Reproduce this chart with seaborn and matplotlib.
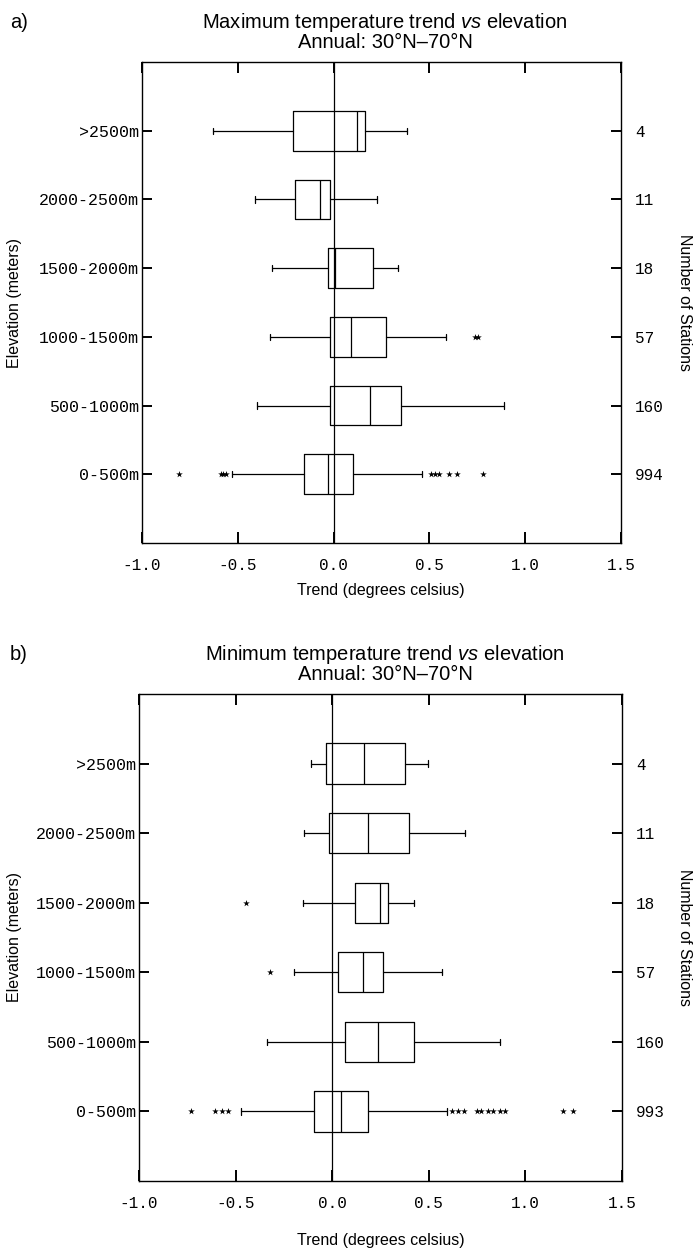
from matplotlib import pyplot as plt
import seaborn as sns
import pandas as pd

# kategorie nadmorske vysky (shora dolu)
elev = [">2500m", "2000-2500m", "1500-2000m", "1000-1500m", "500-1000m", "0-500m"]

# a) maximalni teplota
max_whislo = [-0.63, -0.41, -0.32, -0.33, -0.40, -0.53]
max_q1 = [-0.21, -0.20, -0.03, -0.02, -0.02, -0.155]
max_med = [0.12, -0.07, 0.005, 0.09, 0.19, -0.03]
max_q3 = [0.165, -0.02, 0.205, 0.275, 0.35, 0.10]
max_whishi = [0.385, 0.225, 0.335, 0.585, 0.89, 0.46]
max_fliers = [[], [], [], [0.74, 0.755],
              [], [-0.805, -0.59, -0.575, -0.56, 0.51, 0.53, 0.55, 0.60, 0.645, 0.78]]
max_counts = [4, 11, 18, 57, 160, 994]

# b) minimalni teplota
min_whislo = [-0.11, -0.145, -0.15, -0.20, -0.34, -0.473]
min_q1 = [-0.034, -0.018, 0.12, 0.03, 0.064, -0.095]
min_med = [0.165, 0.183, 0.245, 0.16, 0.236, 0.045]
min_q3 = [0.378, 0.40, 0.287, 0.264, 0.424, 0.183]
min_whishi = [0.498, 0.688, 0.424, 0.569, 0.867, 0.593]
min_fliers = [[], [], [-0.447], [-0.321],
              [], [-0.732, -0.608, -0.572, -0.54, 0.619, 0.65, 0.684, 0.748, 0.769,
                   0.808, 0.834, 0.869, 0.895, 1.195, 1.247]]
min_counts = [4, 11, 18, 57, 160, 993]

xticks = [-1.0, -0.5, 0.0, 0.5, 1.0, 1.5]

sns.set_theme(style="ticks")
plt.rcParams['font.family'] = ['Liberation Sans', 'DejaVu Sans']
plt.rcParams['mathtext.fontset'] = 'custom'
plt.rcParams['mathtext.rm'] = 'Liberation Sans'
plt.rcParams['mathtext.it'] = 'Liberation Sans:italic'
plt.rcParams['axes.unicode_minus'] = False
plt.rcParams['text.color'] = 'black'
plt.rcParams['axes.labelcolor'] = 'black'
mono = 'Liberation Mono'


def draw_panel(ax, whislo, q1, med, q3, whishi, fliers, counts):
    # odlehle hodnoty pres seaborn (kategoricka osa y)
    rows = [(e, v) for e, fl in zip(elev, fliers) for v in fl]
    df = pd.DataFrame(rows, columns=["elev", "trend"])
    sns.stripplot(data=df, x="trend", y="elev", order=elev, orient="h", jitter=False,
                  marker="*", color="black", size=5, linewidth=0, ax=ax)

    # krabice z predpocitanych statistik
    stats = [dict(whislo=a, q1=b, med=c, q3=d, whishi=e, fliers=[])
             for a, b, c, d, e in zip(whislo, q1, med, q3, whishi)]
    lp = dict(color="black", linewidth=0.9)
    ax.bxp(stats, positions=range(len(elev)), widths=0.58, orientation="horizontal",
           showfliers=False, manage_ticks=False, capwidths=0.09,
           boxprops=lp, whiskerprops=lp, capprops=lp, medianprops=lp)
    ax.axvline(0, color="black", linewidth=0.9, zorder=1)

    ax.set_xlim(-1.0, 1.5)
    ax.set_ylim(6, -1)
    ax.set_xticks(xticks)
    ax.set_xticklabels(["%.1f" % t for t in xticks], fontfamily=mono)
    ax.set_yticks(range(len(elev)))
    ax.set_yticklabels(elev, fontfamily=mono)
    ax.tick_params(axis="x", direction="in", top=True, length=8, width=1.4, pad=11,
                   labelsize=11.5, colors="black")
    ax.tick_params(axis="y", direction="in", length=7, width=1.4, pad=2,
                   labelsize=12, colors="black")
    ax.set_xlabel("")
    ax.set_ylabel("")
    for s in ax.spines.values():
        s.set_visible(True)
        s.set_color("black")
        s.set_linewidth(1.0)

    # pocet stanic napravo
    axr = ax.twinx()
    axr.set_ylim(6, -1)
    axr.set_yticks(range(len(elev)))
    axr.set_yticklabels([str(c) for c in counts], fontfamily=mono)
    axr.tick_params(axis="y", direction="in", length=7, width=1.4, pad=10,
                    labelsize=11.5, colors="black")
    for s in axr.spines.values():
        s.set_visible(False)


fig = plt.figure(figsize=(6.93, 12.5), dpi=100)
W, H = 693.0, 1250.0
ax1 = fig.add_axes([142 / W, 1 - 543 / H, 479 / W, 481 / H])
ax2 = fig.add_axes([139 / W, 1 - 1181 / H, 483 / W, 487 / H])

draw_panel(ax1, max_whislo, max_q1, max_med, max_q3, max_whishi, max_fliers, max_counts)
draw_panel(ax2, min_whislo, min_q1, min_med, min_q3, min_whishi, min_fliers, min_counts)

# titulky a popisky
for letter, name, y1, y2, top, bot, xl in [
        ("a)", "Maximum", 23, 43, 62, 543, 590),
        ("b)", "Minimum", 655, 675, 694, 1181, 1240)]:
    fig.text(10 / W, 1 - y1 / H, letter, fontsize=14.5, va="center", ha="left")
    fig.text(385 / W, 1 - y1 / H, name + r" temperature trend $\it{vs}$ elevation",
             fontsize=14.5, va="center", ha="center")
    fig.text(385 / W, 1 - y2 / H, "Annual: 30°N–70°N", fontsize=14.5,
             va="center", ha="center")
    fig.text(381 / W, 1 - xl / H, "Trend (degrees celsius)", fontsize=11.5,
             va="center", ha="center")
    mid = 1 - (top + bot) / 2 / H
    fig.text(14 / W, mid, "Elevation (meters)", fontsize=11.5, rotation=90,
             va="center", ha="center")
    fig.text(684 / W, mid, "Number of Stations", fontsize=11.5, rotation=270,
             va="center", ha="center")

fig.savefig("out.png", dpi=100)
plt.close(fig)
